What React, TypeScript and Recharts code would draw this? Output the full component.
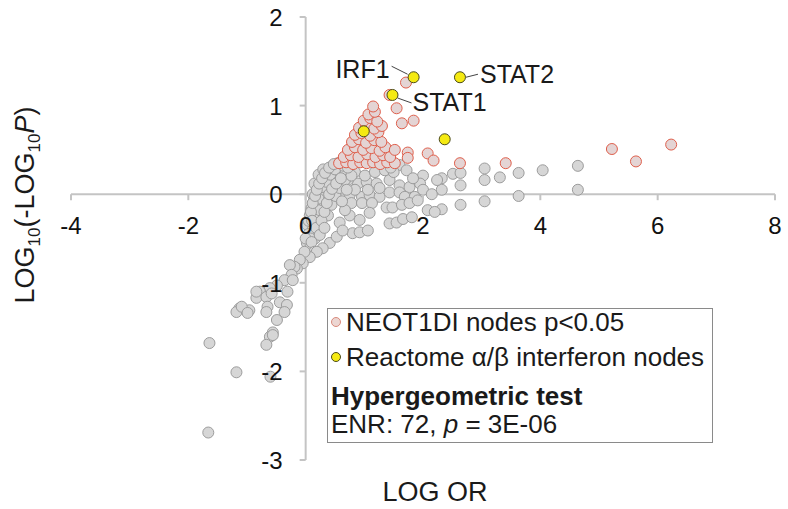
import React from 'react';
import { ScatterChart, Scatter, XAxis, YAxis, ReferenceLine, ReferenceDot } from 'recharts';

const X_TICKS = [-4, -2, 0, 2, 4, 6, 8];
const Y_TICKS = [-3, -2, -1, 0, 1, 2];

// all nodes (log OR, log10(-log10 p))
const GRAY_POINTS = [
  [2.32, 0.18], [2.32, 0.05], [2.32, -0.17], [2.51, 0.23], [2.64, 0.24], [2.64, 0.1], [2.64, -0.12],
  [3.05, 0.29], [3.05, 0.16], [3.05, -0.08], [3.31, 0.19], [3.63, 0.24], [3.63, -0.02], [4.04, 0.27],
  [4.64, 0.32], [4.64, 0.05],
  [1.6, 0.33], [1.72, 0.27], [2.0, 0.21], [2.24, 0.16], [0.89, 0.12], [1.04, 0.14], [1.21, 0.12],
  [1.43, 0.16], [1.6, 0.1], [1.77, 0.08], [1.95, 0.12], [0.75, -0.01], [0.96, -0.03], [1.09, -0.01],
  [1.26, -0.03], [1.43, 0.02], [1.6, 0.02], [1.69, -0.03], [1.86, -0.03], [0.78, -0.1], [0.96, -0.1],
  [1.13, -0.1], [1.38, -0.15], [1.48, -0.15], [1.64, -0.12], [1.77, -0.1], [1.91, -0.07], [0.75, -0.24],
  [0.92, -0.29], [1.09, -0.21], [1.43, -0.33], [1.55, -0.32], [1.66, -0.28], [1.81, -0.26], [0.8, -0.44],
  [0.92, -0.43], [1.06, -0.41], [1.83, 0.18], [2.08, -0.18], [2.2, -0.2], [2.0, 0.05], [2.15, 0.0],
  [0.84, 0.25], [1.01, 0.21], [1.18, 0.25], [1.35, 0.27], [0.72, 0.16], [1.26, 0.07], [1.06, 0.05],
  [0.84, 0.05], [1.5, 0.25], [1.45, 0.3],
  [0.03, -0.35], [0.07, -0.24], [0.1, -0.16], [0.14, -0.07], [0.17, 0.01], [0.2, 0.09], [0.26, 0.16],
  [0.31, 0.21], [0.38, 0.27], [0.46, 0.32], [0.55, 0.35], [0.2, -0.29], [0.24, -0.18], [0.29, -0.07],
  [0.34, 0.02], [0.41, 0.1], [0.48, 0.18], [0.58, 0.25], [0.68, 0.27], [0.38, -0.24], [0.44, -0.12],
  [0.51, -0.02], [0.58, 0.07], [0.67, 0.16], [0.78, 0.21], [0.58, -0.32], [0.67, -0.18], [0.62, -0.08],
  [0.7, 0.05], [0.12, -0.4], [0.16, -0.5], [0.05, -0.45], [0.22, -0.05], [0.28, 0.08], [0.35, 0.14],
  [0.42, 0.22], [0.5, 0.28], [0.12, 0.0], [0.15, 0.12], [0.22, 0.22], [0.3, 0.28],
  [0.05, -0.3], [0.09, -0.2], [0.12, -0.1], [0.16, -0.02], [0.19, 0.05], [0.23, 0.12], [0.28, 0.18],
  [0.33, 0.24], [0.4, 0.3], [0.48, 0.34], [0.08, -0.5], [0.11, -0.3], [0.18, -0.38], [0.27, -0.3],
  [0.32, -0.2], [0.36, -0.1], [0.4, 0.0], [0.45, 0.06], [0.52, 0.12], [0.6, 0.18], [0.65, 0.32],
  [0.72, 0.3], [0.02, -0.55], [0.06, -0.62], [0.0, -0.5],
  [0.24, -0.46], [0.32, -0.38], [0.41, -0.55], [0.29, -0.61], [0.53, -0.48], [0.63, -0.41], [0.1, -0.54],
  [0.15, -0.65], [0.19, -0.65], [0.07, -0.71], [-0.02, -0.65], [-0.05, -0.78], [-0.1, -0.74],
  [-0.15, -0.84], [-0.19, -0.82], [-0.27, -0.8], [-0.24, -0.91], [-0.36, -0.97], [-0.22, -0.97],
  [-0.31, -1.1], [-0.49, -1.03], [-0.61, -1.06], [-0.78, -1.1], [-0.84, -1.17], [-0.67, -1.16],
  [-0.58, -1.12], [-0.44, -1.22], [-0.32, -1.25], [-0.36, -1.33], [-0.65, -1.27], [-0.67, -1.33],
  [-0.96, -1.31], [-1.13, -1.29], [-1.18, -1.33], [-1.09, -1.27], [-0.99, -1.34], [-0.49, -1.42],
  [-0.56, -1.56], [-0.61, -1.61], [-0.67, -1.7], [-0.56, -1.59], [-1.64, -1.68], [-1.18, -2.01],
  [-0.6, -2.06], [-1.66, -2.69], [-0.84, -1.1],
];

// NEOT1DI nodes p<0.05
const RED_POINTS = [
  [0.57, 0.35], [0.69, 0.36], [0.81, 0.34], [0.93, 0.36], [1.04, 0.35], [1.15, 0.36], [1.27, 0.34],
  [1.39, 0.36], [1.52, 0.35],
  [0.65, 0.42], [0.77, 0.44], [0.9, 0.42], [1.05, 0.45], [1.19, 0.42], [1.32, 0.44], [1.44, 0.42],
  [0.72, 0.5], [0.84, 0.53], [0.98, 0.5], [1.12, 0.52], [1.26, 0.49], [1.36, 0.53],
  [0.79, 0.59], [0.91, 0.62], [1.03, 0.58], [1.17, 0.61], [1.29, 0.59],
  [0.84, 0.67], [0.95, 0.69], [1.1, 0.66], [1.24, 0.7],
  [0.91, 0.75], [1.03, 0.78], [1.17, 0.74], [1.3, 0.77],
  [0.99, 0.83], [1.1, 0.86], [1.22, 0.82],
  [1.07, 0.9], [1.18, 0.93], [1.15, 0.99],
  [1.43, 1.12], [1.55, 0.97], [1.64, 0.8], [1.84, 0.83], [1.71, 1.26], [1.52, 0.5], [1.74, 0.47],
  [1.74, 0.41], [2.08, 0.46], [2.18, 0.38], [2.63, 0.35], [3.41, 0.35], [5.22, 0.51], [5.63, 0.37],
  [6.23, 0.56],
];

// Reactome alpha/beta interferon nodes
const YELLOW_POINTS = [[0.99, 0.71], [1.84, 1.32], [2.63, 1.32], [1.48, 1.12], [2.37, 0.62]];
const YELLOW_NAMES = ['', 'IRF1', 'STAT2', 'STAT1', ''];

const grayData = GRAY_POINTS.map(([x, y]) => ({ x, y }));
const redData = RED_POINTS.map(([x, y]) => ({ x, y }));
const yellowData = YELLOW_POINTS.map(([x, y], i) => ({ x, y, name: YELLOW_NAMES[i] }));

const FONT = '"Liberation Sans", Arial, sans-serif';
const AXIS = '#c4c4c4';

const LABELS: Record<string, { tx: number; ty: number; anchor: 'start' | 'end'; line: number[] }> = {
  IRF1: { tx: -24, ty: 1, anchor: 'end', line: [-22, -11, -6, -3] },
  STAT2: { tx: 20, ty: 6, anchor: 'start', line: [6, 0, 18, -3] },
  STAT1: { tx: 20, ty: 16, anchor: 'start', line: [5, 3, 19, 8] },
};

const dot = (fill: string, stroke: string) => (p: any) => (
  <circle cx={p.cx} cy={p.cy} r={5.5} fill={fill} stroke={stroke} strokeWidth={1} />
);

const yellowDot = (p: any) => {
  const lab = p.payload && LABELS[p.payload.name];
  return (
    <g>
      {lab && (
        <line x1={p.cx + lab.line[0]} y1={p.cy + lab.line[1]} x2={p.cx + lab.line[2]} y2={p.cy + lab.line[3]}
          stroke="#444" strokeWidth={1} />
      )}
      <circle cx={p.cx} cy={p.cy} r={5.5} fill="#f5ea12" stroke="#4a4a1c" strokeWidth={1} />
      {lab && (
        <text x={p.cx + lab.tx} y={p.cy + lab.ty} textAnchor={lab.anchor} fontSize={25} fontFamily={FONT} fill="#1a1a1a">
          {p.payload.name}
        </text>
      )}
    </g>
  );
};

const xTick = (t: number) => (p: any) => (
  <g>
    <line x1={p.cx} y1={p.cy} x2={p.cx} y2={p.cy + 6} stroke={AXIS} strokeWidth={2} />
    <text x={p.cx} y={p.cy + 40} textAnchor="middle" fontSize={24} fontFamily={FONT} fill="#111">{t}</text>
  </g>
);

const yTick = (t: number) => (p: any) => (
  <g>
    <line x1={p.cx - 6} y1={p.cy} x2={p.cx} y2={p.cy} stroke={AXIS} strokeWidth={2} />
    <text x={p.cx - 23} y={p.cy + 9} textAnchor="end" fontSize={24} fontFamily={FONT} fill="#111">{t}</text>
  </g>
);

export default function App() {
  return (
    <div style={{ position: 'absolute', left: 0, top: 0, width: 788, height: 509, background: '#fff', fontFamily: FONT }}>
      <ScatterChart width={788} height={509} margin={{ top: 17, right: 13, bottom: 49, left: 71 }}>
        <XAxis type="number" dataKey="x" domain={[-4, 8]} hide />
        <YAxis type="number" dataKey="y" domain={[-3, 2]} hide />
        <ReferenceLine y={0} stroke={AXIS} strokeWidth={2} />
        <ReferenceLine x={0} stroke={AXIS} strokeWidth={2} />
        <Scatter data={grayData} isAnimationActive={false} shape={dot('#d6d6d6', '#9c9c9c')} />
        <Scatter data={redData} isAnimationActive={false} shape={dot('#e4d4d4', '#df5f4c')} />
        <Scatter data={yellowData} isAnimationActive={false} shape={yellowDot} />
        {X_TICKS.map((t) => (
          <ReferenceDot key={'x' + t} x={t} y={0} shape={xTick(t)} isFront />
        ))}
        {Y_TICKS.map((t) => (
          <ReferenceDot key={'y' + t} x={0} y={t} shape={yTick(t)} isFront />
        ))}
      </ScatterChart>
      <svg width={788} height={509} style={{ position: 'absolute', left: 0, top: 0, pointerEvents: 'none' }}
        fontFamily={FONT} fill="#1a1a1a">
        <text transform="translate(34,205) rotate(-90)" textAnchor="middle" fontSize={27}>
          LOG<tspan fontSize={17} dy={6}>10</tspan><tspan dy={-6}>(-LOG</tspan><tspan fontSize={17} dy={6}>10</tspan>
          <tspan dy={-6} fontStyle="italic">P</tspan>)
        </text>
        <text x={435} y={501} textAnchor="middle" fontSize={27}>LOG OR</text>
        <rect x={327.5} y={308.5} width={385} height={134} fill="#fff" stroke="#8a8a8a" strokeWidth={1} />
        <circle cx={336} cy={322} r={4.5} fill="#ecd6d2" stroke="#d98a7c" />
        <text x={346} y={331} fontSize={26}>NEOT1DI nodes p&lt;0.05</text>
        <circle cx={336} cy={357} r={4.5} fill="#f5ea12" stroke="#4a4a1c" />
        <text x={346} y={366} fontSize={26}>Reactome α/β interferon nodes</text>
        <text x={331} y={405} fontSize={26} fontWeight="bold">Hypergeometric test</text>
        <text x={331} y={433} fontSize={26}>
          ENR: 72, <tspan fontStyle="italic">p</tspan> = 3E-06
        </text>
      </svg>
    </div>
  );
}
